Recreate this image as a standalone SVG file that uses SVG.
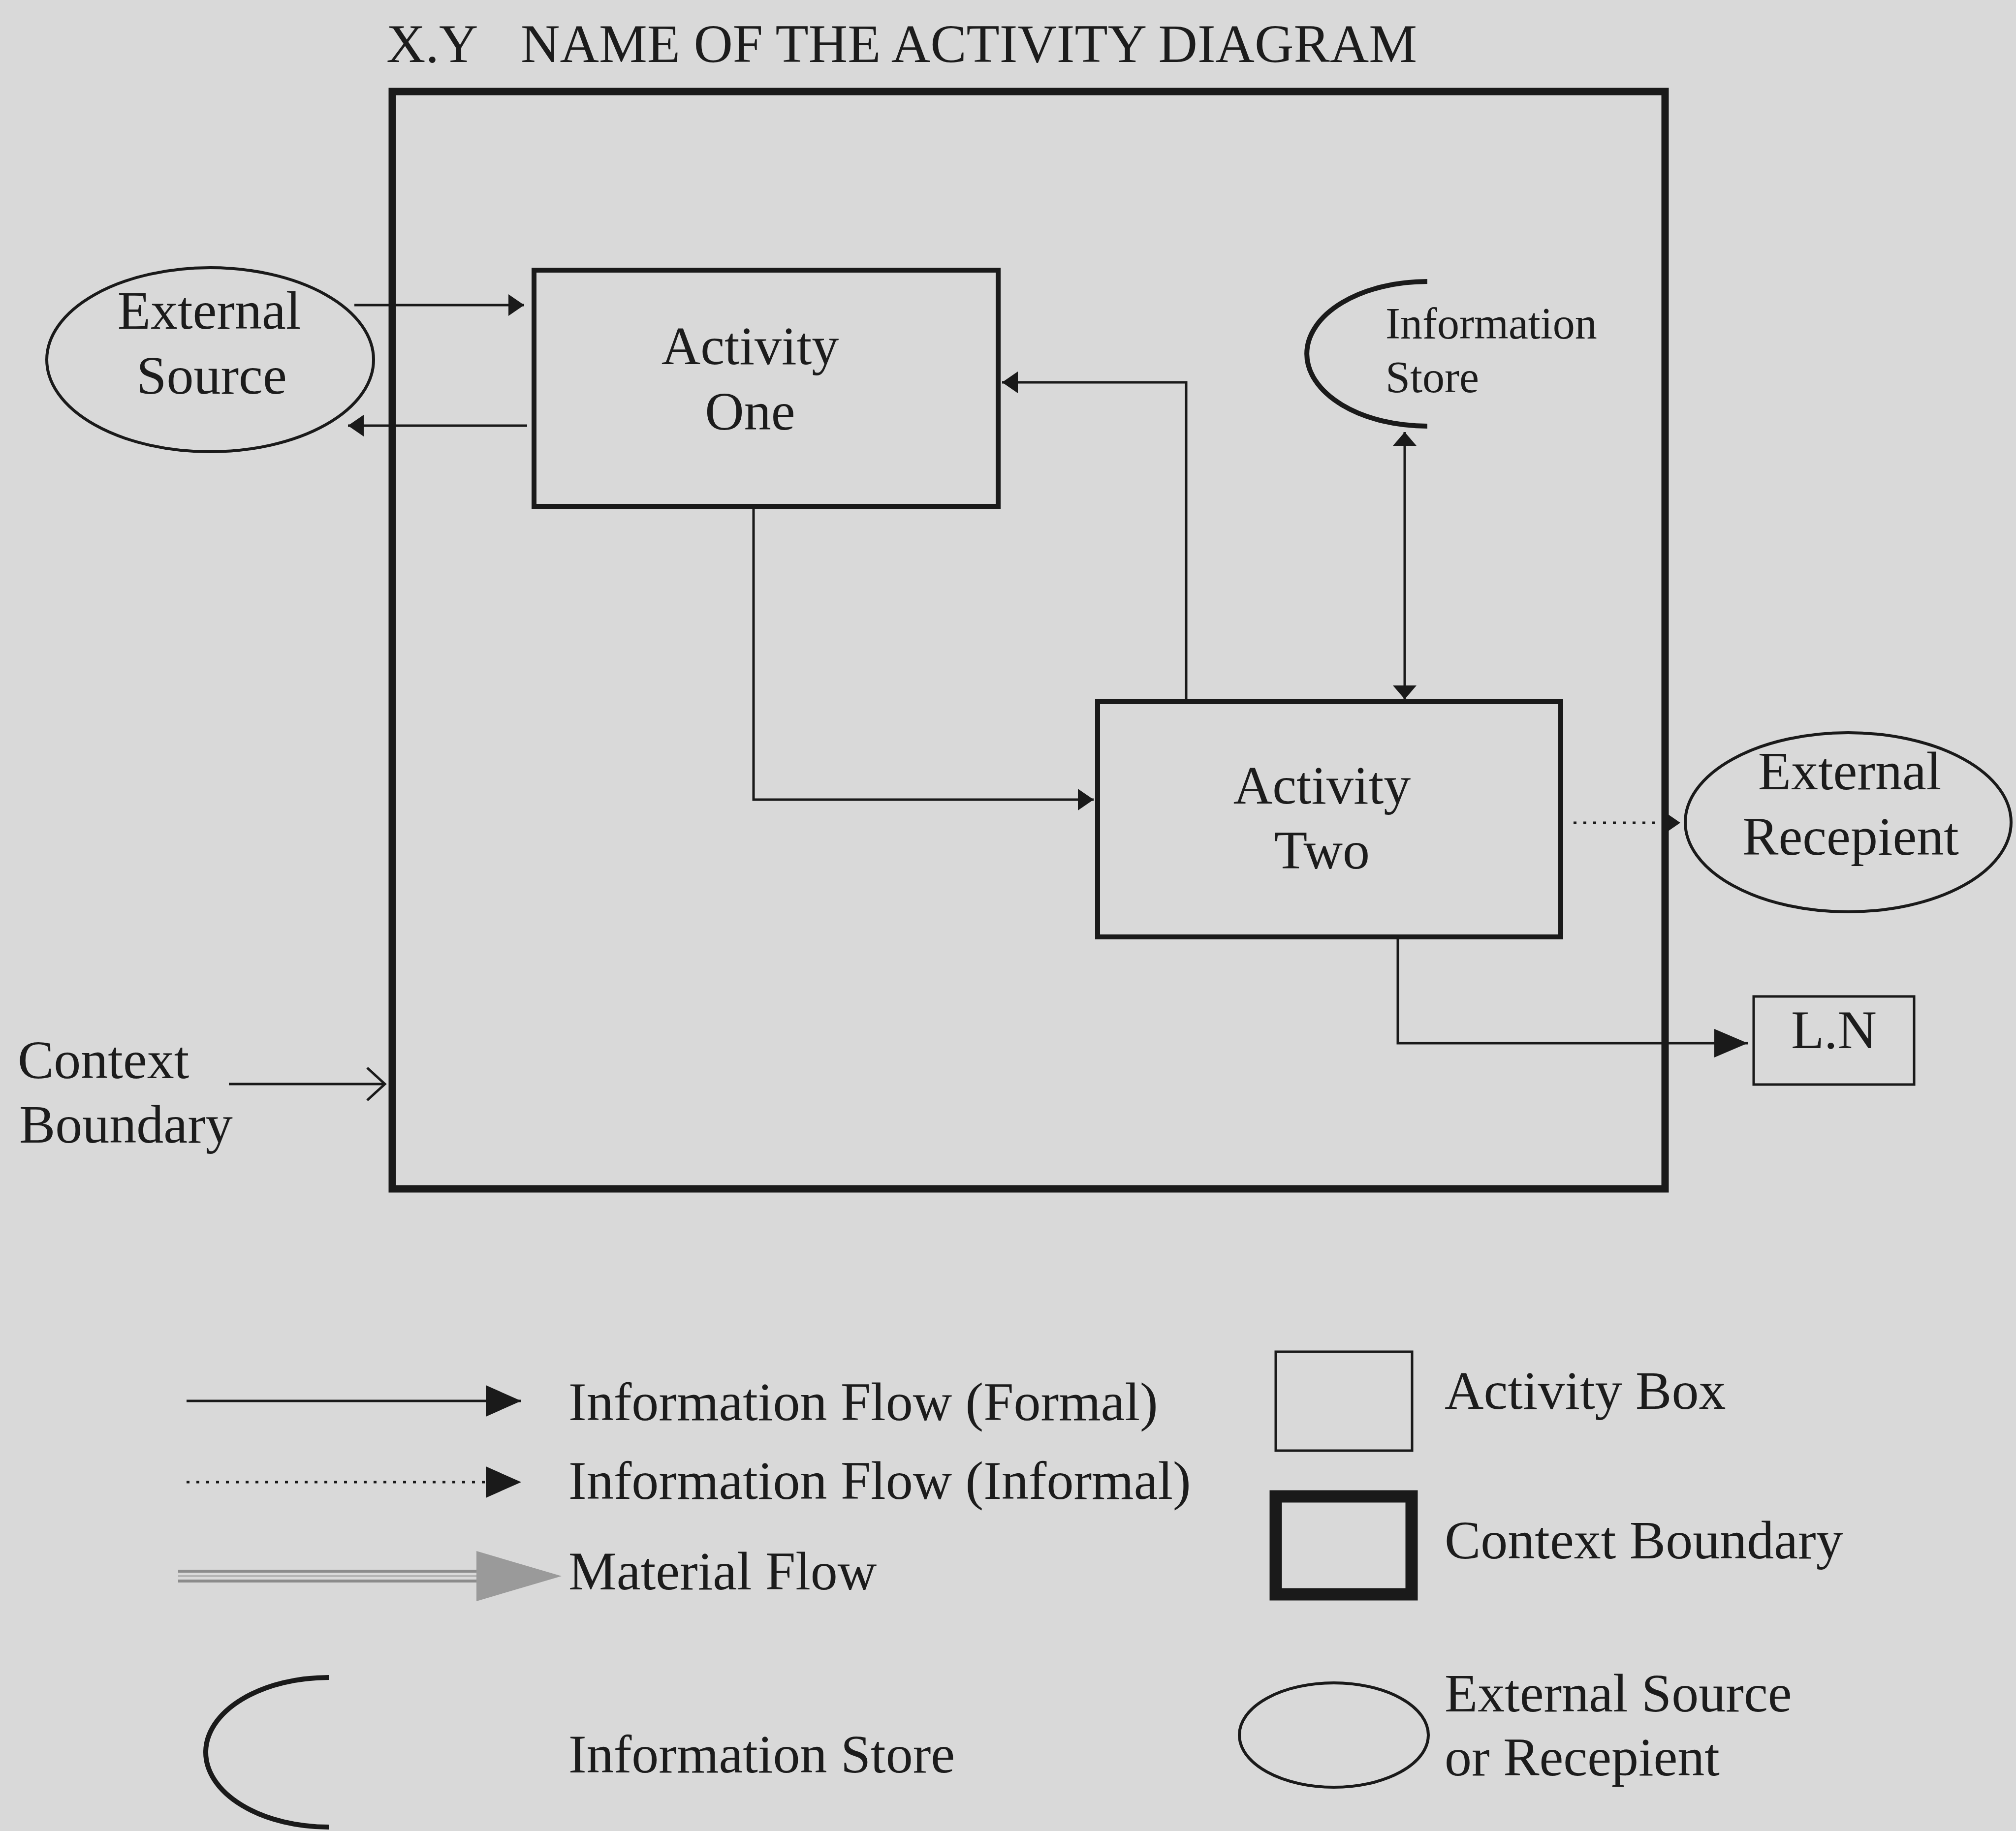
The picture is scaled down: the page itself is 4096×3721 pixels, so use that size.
<svg xmlns="http://www.w3.org/2000/svg" width="4096" height="3721" viewBox="0 0 4096 3721">
  <style>
    text { font-family: "Liberation Serif", "Times New Roman", serif; fill: #1c1c1c; }
    .lbl { font-size: 110px; }
    .mid { text-anchor: middle; }
    .small { font-size: 90px; }
    .box { fill: none; stroke: #1a1a1a; stroke-width: 10; }
    .thin { fill: none; stroke: #1a1a1a; stroke-width: 5; }
    .oval { fill: none; stroke: #1a1a1a; stroke-width: 6; }
    .store { fill: none; stroke: #1a1a1a; stroke-width: 10; }
    .flow { fill: none; stroke: #1a1a1a; stroke-width: 5; }
    .dot { fill: none; stroke: #1a1a1a; stroke-width: 5; stroke-dasharray: 6 14; }
  </style>
  <defs>
    <marker id="head" markerUnits="userSpaceOnUse" markerWidth="32" markerHeight="44" refX="32" refY="22" orient="auto">
      <path d="M0,0 L32,22 L0,44 z" fill="#1a1a1a"/>
    </marker>
    <marker id="headFlat" markerUnits="userSpaceOnUse" markerWidth="28" markerHeight="48" refX="28" refY="24" orient="auto">
      <path d="M0,0 L28,24 L0,48 z" fill="#1a1a1a"/>
    </marker>
    <marker id="headFlatStart" markerUnits="userSpaceOnUse" markerWidth="28" markerHeight="48" refX="0" refY="24" orient="auto">
      <path d="M28,0 L0,24 L28,48 z" fill="#1a1a1a"/>
    </marker>
    <marker id="headBig" markerUnits="userSpaceOnUse" markerWidth="68" markerHeight="58" refX="68" refY="29" orient="auto">
      <path d="M0,0 L68,29 L0,58 z" fill="#1a1a1a"/>
    </marker>
    <marker id="headLegend" markerUnits="userSpaceOnUse" markerWidth="72" markerHeight="64" refX="72" refY="32" orient="auto">
      <path d="M0,0 L72,32 L0,64 z" fill="#1a1a1a"/>
    </marker>
  </defs>

  <!-- page -->
  <rect x="0" y="0" width="4096" height="3721" fill="#d9d9d9"/>

  <!-- title -->
  <g id="title">
    <text class="lbl" x="785" y="126">X.Y</text>
    <text class="lbl" x="1058" y="126">NAME OF THE ACTIVITY DIAGRAM</text>
  </g>

  <!-- context boundary -->
  <g id="context-boundary">
    <rect x="797" y="186" width="2586" height="2230" fill="none" stroke="#1a1a1a" stroke-width="15"/>
  </g>

  <g id="context-label">
    <text class="lbl" x="36" y="2191">Context</text>
    <text class="lbl" x="39" y="2322">Boundary</text>
    <path class="flow" d="M465,2203 L780,2203"/>
    <path class="flow" d="M746,2170 L782,2203 L746,2236"/>
  </g>

  <g id="external-source">
    <ellipse class="oval" cx="427" cy="731" rx="332" ry="187"/>
    <text class="lbl mid" x="425" y="668">External</text>
    <text class="lbl mid" x="430" y="800">Source</text>
  </g>

  <g id="activity-one">
    <rect class="box" x="1085" y="549" width="943" height="480"/>
    <text class="lbl mid" x="1524" y="740">Activity</text>
    <text class="lbl mid" x="1524" y="873">One</text>
  </g>

  <g id="information-store">
    <path class="store" d="M2900,572 A245,147 0 0 0 2900,866"/>
    <text class="small" x="2815" y="688">Information</text>
    <text class="small" x="2815" y="797">Store</text>
  </g>

  <g id="activity-two">
    <rect class="box" x="2230" y="1426" width="941" height="478"/>
    <text class="lbl mid" x="2686" y="1633">Activity</text>
    <text class="lbl mid" x="2686" y="1765">Two</text>
  </g>

  <g id="external-recepient">
    <ellipse class="oval" cx="3755" cy="1671" rx="331" ry="182"/>
    <text class="lbl mid" x="3758" y="1604">External</text>
    <text class="lbl mid" x="3760" y="1737">Recepient</text>
  </g>

  <g id="ln">
    <rect class="thin" x="3563" y="2025" width="326" height="179"/>
    <text class="lbl mid" x="3726" y="2130">L.N</text>
  </g>

  <!-- flows between nodes -->
  <g id="connectors">
    <path class="flow" d="M720,620 L1065,620" marker-end="url(#head)"/>
    <path class="flow" d="M1071,865 L707,865" marker-end="url(#head)"/>
    <path class="flow" d="M1531,1029 L1531,1625 L2222,1625" marker-end="url(#head)"/>
    <path class="flow" d="M2410,1426 L2410,777 L2036,777" marker-end="url(#head)"/>
    <path class="flow" d="M2854,878 L2854,1421" marker-start="url(#headFlatStart)" marker-end="url(#headFlat)"/>
    <path class="dot" d="M3197,1672 L3414,1672" marker-end="url(#head)"/>
    <path class="flow" d="M2840,1904 L2840,2120 L3551,2120" marker-end="url(#headBig)"/>
  </g>

  <!-- key -->
  <g id="legend-formal">
    <path class="flow" d="M379,2847 L1059,2847" marker-end="url(#headLegend)"/>
    <text class="lbl" x="1155" y="2886">Information Flow (Formal)</text>
  </g>
  <g id="legend-informal">
    <path class="dot" d="M379,3012 L1059,3012" marker-end="url(#headLegend)"/>
    <text class="lbl" x="1155" y="3046">Information Flow (Informal)</text>
  </g>
  <g id="legend-material">
    <path d="M362,3193 L968,3193" stroke="#8c8c8c" stroke-width="6" fill="none"/>
    <path d="M362,3203 L968,3203" stroke="#b4b4b4" stroke-width="4" fill="none"/>
    <path d="M362,3213 L968,3213" stroke="#8c8c8c" stroke-width="6" fill="none"/>
    <path d="M968,3152 L1141,3203 L968,3254 z" fill="#9a9a9a"/>
    <text class="lbl" x="1155" y="3230">Material Flow</text>
  </g>
  <g id="legend-store">
    <path class="store" d="M668,3409 A250,152 0 0 0 668,3713"/>
    <text class="lbl" x="1155" y="3602">Information Store</text>
  </g>
  <g id="legend-activity">
    <rect class="thin" x="2592" y="2747" width="277" height="201"/>
    <text class="lbl" x="2935" y="2863">Activity Box</text>
  </g>
  <g id="legend-boundary">
    <rect x="2592" y="3041" width="276" height="199" fill="none" stroke="#1a1a1a" stroke-width="25"/>
    <text class="lbl" x="2935" y="3167">Context Boundary</text>
  </g>
  <g id="legend-external">
    <ellipse class="oval" cx="2710" cy="3526" rx="192" ry="106"/>
    <text class="lbl" x="2935" y="3478">External Source</text>
    <text class="lbl" x="2935" y="3608">or Recepient</text>
  </g>
</svg>
